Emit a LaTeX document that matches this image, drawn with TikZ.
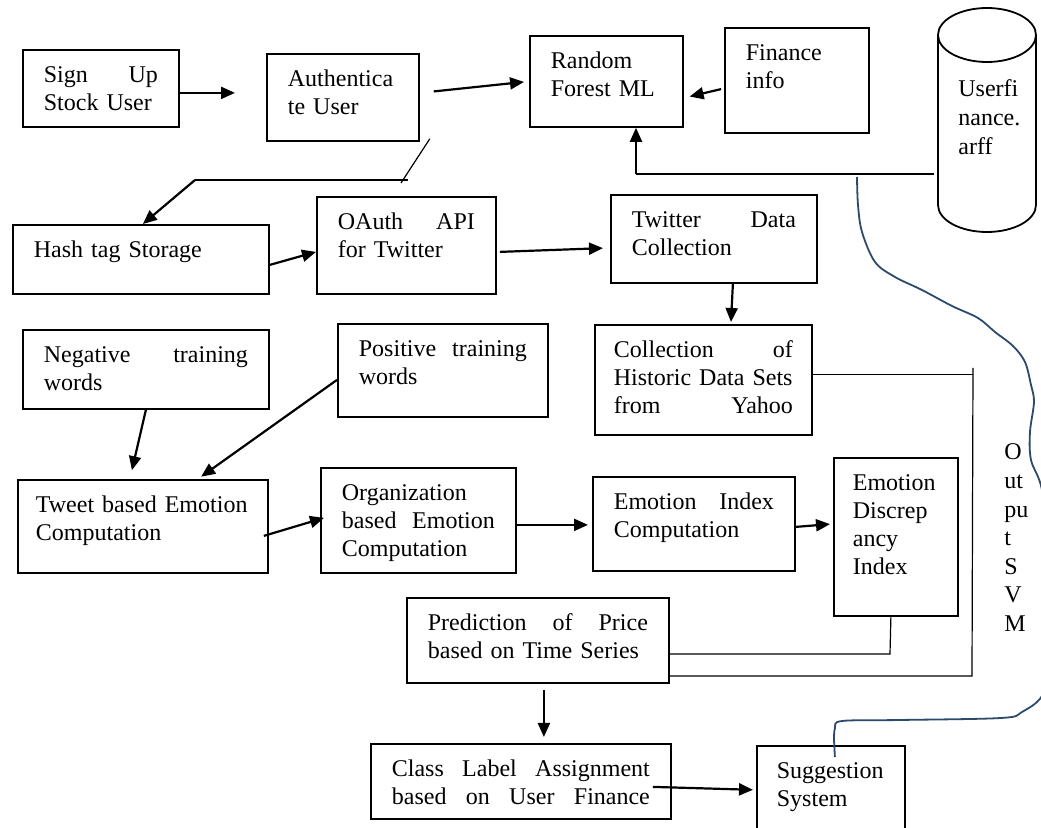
\documentclass[tikz,border=0pt]{standalone}
\usepackage{fontspec}
\setmainfont{Liberation Serif}
\usetikzlibrary{arrows.meta}
\definecolor{penblue}{HTML}{2C4A6B}
\hyphenpenalty=10000\relax
% spread one line over the whole box width
\newcommand\sprd[1]{\leavevmode\hbox to\hsize{#1}}
\tikzset{
    %Define standard arrow tip
    >={Triangle[length=7pt,width=6pt]},
    %Define style for boxes
    blokk/.style={
        rectangle,
        draw, line width=0.9pt,
        anchor=north west,
        inner xsep=10.5pt, inner ysep=0pt,
        text height=16.5pt,
        align=left,
        font=\fontsize{12pt}{14pt}\selectfont},
    % plain text without a frame
    tekst/.style={anchor=base west, inner sep=0pt, align=left,
        font=\fontsize{12pt}{14.3pt}\selectfont},
    % Define arrow style
    pil/.style={->, line width=1.1pt},
    tynn/.style={line width=0.6pt},
    penn/.style={draw=penblue, line width=0.9pt}
}
\begin{document}
\begin{tikzpicture}[x=0.5pt, y=-0.5pt]
    \path[use as bounding box, fill=white] (0,0) rectangle (1041,828);
    %nodes
    \node[blokk, text width=57pt, text depth=22pt] (signup) at (22,49) {\sprd{Sign\hfill Up}\\Stock User};
    \node[blokk, text width=55pt, text depth=27pt] (auth) at (266,53) {Authentica\\te User};
    \node[blokk, text width=55.5pt, text depth=29pt] (rf) at (529,35) {Random\\Forest ML};
    \node[blokk, text width=51pt, text depth=36pt] (fin) at (724,27) {Finance\\info};
    % the data file drum
    \draw[line width=0.9pt] (938,35) -- (938,205)
        arc[start angle=180, end angle=360, x radius=24.5pt, y radius=13.5pt] -- (1036,35);
    \draw[line width=0.9pt] (987,35) ellipse [x radius=24.5pt, y radius=13.5pt];
    \coordinate (drumside) at (938,174);
    \node[tekst, text width=36pt] (arff) at (958,97) {Userfi\\nance.\\arff};
    \node[blokk, text width=107pt, text depth=18pt] (hash) at (12,224) {Hash tag Storage};
    \node[blokk, text width=68.5pt, text depth=32pt] (oauth) at (316,196) {\sprd{OAuth\hfill API}\\for Twitter};
    \node[blokk, text width=82pt, text depth=27.5pt] (tw) at (610,194) {\sprd{Twitter\hfill Data}\\Collection};
    \node[blokk, inner xsep=9.5pt, text width=89.5pt, text depth=38.5pt] (coll) at (594,324) {\sprd{Collection\hfill of}\\Historic Data Sets\\\sprd{from\hfill Yahoo}};
    \node[blokk, text width=102pt, text depth=23pt] (neg) at (22,329) {\sprd{Negative\hfill training}\\words};
    \node[blokk, text width=84pt, text depth=30pt] (pos) at (337,323) {\sprd{Positive\hfill training}\\words};
    \node[blokk, inner xsep=9pt, text width=107pt, text depth=30pt] (tweet) at (17,479) {Tweet based Emotion\\Computation};
    \node[blokk, text width=76.5pt, text depth=36pt] (org) at (320,467) {Organization\\\sprd{based\hfill Emotion}\\Computation};
    \node[blokk, text width=80pt, text depth=30.5pt] (ei) at (592,476) {\sprd{Emotion\hfill Index}\\Computation};
    \node[blokk, inner xsep=9.5pt, text width=43pt, text depth=62.5pt] (edi) at (833,457) {Emotion\\Discrep\\ancy\\Index};
    \node[blokk, text width=110pt, text depth=26pt] (pred) at (406,597) {\sprd{Prediction\hfill of\hfill Price}\\based on Time Series};
    \node[blokk, text width=129pt, text depth=21pt] (cls) at (370,743) {\sprd{Class\hfill Label\hfill Assignment}\\\sprd{based\hfill on\hfill User\hfill Finance}};
    \node[blokk, inner xsep=10pt, text width=54pt, text depth=33.5pt] (sug) at (756,745) {Suggestion\\System};
    \node[tekst, text width=14pt] (svm) at (1004,460) {O\\ut\\pu\\t\\S\\V\\M};

    % free ends of the joins
    \coordinate (rfjoin) at (636,174);
    \coordinate (hcross) at (401,183);
    \coordinate (hbend) at (408,180);
    \coordinate (hcorner) at (195,180);
    \coordinate (railtop) at (973,368);
    \coordinate (railbot) at (972,676);
    \coordinate (dbend) at (890,654);
    \coordinate (penstart) at (857,177);

    %arrows
    \draw[pil, shorten >=15.5pt] ([yshift=-2.25pt]signup.east) -- ([yshift=-2.25pt]signup.east -| auth.west);
    \draw[pil, shorten <=7pt, shorten >=2.5pt] ([yshift=2.25pt]auth.east) -- (rf.west);
    \draw[pil, shorten <=1.5pt, shorten >=3pt] ([yshift=-4pt]fin.west) -- ([yshift=-8.25pt]rf.east);
    \draw[tynn] ([xshift=-2pt]drumside) -- (rfjoin);
    \draw[pil] (rfjoin) -- (rfjoin |- rf.south);
    \draw[tynn] ([xshift=5pt,yshift=1.5pt]auth.south east) -- (hcross);
    \draw[tynn] (hbend) -- (hcorner);
    \draw[pil] (hcorner) -- ([xshift=1pt]hash.north);
    \draw[pil] ([yshift=-2.75pt]hash.east) -- ([yshift=-3.25pt]oauth.west);
    \draw[pil, shorten >=3.5pt] ([xshift=1.5pt,yshift=-3.25pt]oauth.east) -- ([yshift=-4.5pt]tw.west);
    \draw[pil, shorten >=1pt] ([xshift=9.5pt]tw.south) -- ([xshift=13.75pt]coll.north);
    \draw[pil, shorten >=4.5pt] (neg.south) -- ([xshift=-6.5pt]tweet.north);
    \draw[pil, shorten >=2pt] ([yshift=-4.75pt]pos.west) -- ([xshift=27.5pt]tweet.north);
    \draw[pil] ([xshift=-2.5pt,yshift=-4.75pt]tweet.east) -- ([xshift=2pt,yshift=1.25pt]org.west);
    \draw[pil, shorten >=2pt] ([yshift=-2.25pt]org.east) -- ([yshift=-2.25pt]org.east -| ei.west);
    \draw[pil, shorten >=1.5pt] ([yshift=-1.5pt]ei.east) -- ([yshift=6.5pt]edi.west);
    \draw[tynn] ([yshift=2.5pt]coll.east) -- ([yshift=2.5pt]coll.east -| railtop);
    \draw[tynn] (railtop) -- (railbot) -- (railbot -| pred.east);
    \draw[tynn] ([xshift=-2.5pt]edi.south) -- (dbend) -- (dbend -| pred.east);
    \draw[pil, shorten <=3pt, shorten >=3pt] ([xshift=3pt]pred.south) -- ([xshift=3pt]pred.south |- cls.north);
    \draw[pil, shorten >=1.5pt] ([xshift=-9.5pt,yshift=-2.75pt]cls.east) -- ([yshift=3pt]sug.west);

    % hand drawn output line
    \draw[penn] plot[smooth, tension=0.55] coordinates {(penstart) (858,205) (862,232) (875,262) (895,277)
        (922,290) (952,306) (978,318) (995,332) (1013,346) (1025,362) (1031,385) (1034,402) (1030,432)
        (1031,460) (1042,490) (1050,560) (1050,640) (1044,692) (1022,712) (1001,718) (900,720)
        (842,721) (835,728) (834,740)} -- ([xshift=2pt,yshift=-6pt]sug.north);
\end{tikzpicture}
\end{document}
